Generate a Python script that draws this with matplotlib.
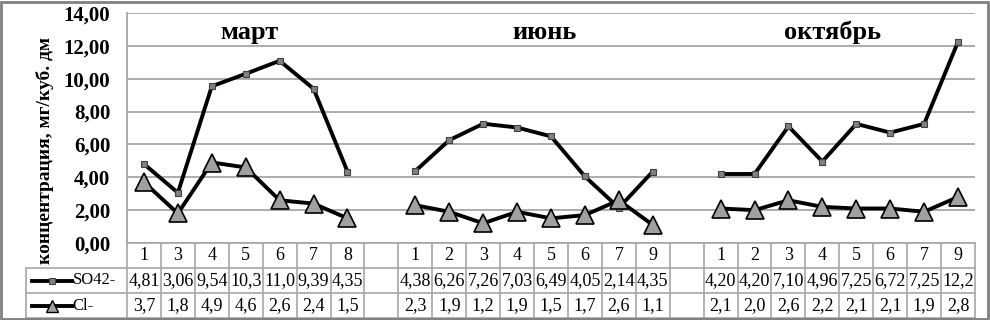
import numpy as np
import matplotlib
matplotlib.use('Agg')
import matplotlib.pyplot as plt
from matplotlib.patches import Rectangle

plt.rcParams['font.family'] = ['Liberation Serif', 'DejaVu Serif']

# Данные: три месяца, разрывы между группами
categories = ['1', '3', '4', '5', '6', '7', '8', '',
              '1', '2', '3', '4', '5', '6', '7', '9', '',
              '1', '2', '3', '4', '5', '6', '7', '9']
so4 = [4.81, 3.06, 9.54, 10.3, 11.09, 9.39, 4.35, np.nan,
       4.38, 6.26, 7.26, 7.03, 6.49, 4.05, 2.14, 4.35, np.nan,
       4.20, 4.20, 7.10, 4.96, 7.25, 6.72, 7.25, 12.25]
cl = [3.7, 1.8, 4.9, 4.6, 2.6, 2.4, 1.5, np.nan,
      2.3, 1.9, 1.2, 1.9, 1.5, 1.7, 2.6, 1.1, np.nan,
      2.1, 2.0, 2.6, 2.2, 2.1, 2.1, 1.9, 2.8]
so4_text = ['4,81', '3,06', '9,54', '10,3', '11,0', '9,39', '4,35', '',
            '4,38', '6,26', '7,26', '7,03', '6,49', '4,05', '2,14', '4,35', '',
            '4,20', '4,20', '7,10', '4,96', '7,25', '6,72', '7,25', '12,2']
cl_text = ['3,7', '1,8', '4,9', '4,6', '2,6', '2,4', '1,5', '',
           '2,3', '1,9', '1,2', '1,9', '1,5', '1,7', '2,6', '1,1', '',
           '2,1', '2,0', '2,6', '2,2', '2,1', '2,1', '1,9', '2,8']
months = ['март', 'июнь', 'октябрь']
month_x = [3.1, 11.8, 20.3]
series_names = ['SO42-', 'Cl-']

W, H = 990, 320
fig = plt.figure(figsize=(W / 100, H / 100), dpi=100)

x = np.arange(len(categories))
grid_c = '#a6a6a6'
tsize = 13

# основная область графика
ax = fig.add_axes([127 / W, 77 / H, 848 / W, 230 / H])
ax.set_xlim(-0.5, len(categories) - 0.5)
ax.set_ylim(0, 14)
ax.set_yticks(np.arange(0, 15, 2))
ax.set_yticklabels([('%.2f' % v).replace('.', ',') for v in np.arange(0, 15, 2)],
                   fontsize=15, fontweight='bold')
ax.tick_params(axis='y', length=0, pad=12)
ax.set_xticks([])
ax.grid(axis='y', color=grid_c, lw=1.3)
ax.set_axisbelow(True)
for s in ['top', 'right', 'bottom']:
    ax.spines[s].set_visible(False)
ax.spines['left'].set_color(grid_c)
ax.spines['left'].set_linewidth(1.3)

ax.plot(x, so4, color='black', lw=2.8, marker='s', ms=4.5,
        mfc='#808080', mec='#404040', mew=0.8, zorder=3)
ax.plot(x, cl, color='black', lw=2.8, marker='^', ms=13,
        mfc='#a0a0a0', mec='black', mew=1.2, zorder=4)

for name, mx in zip(months, month_x):
    ax.text(mx, 12.8, name, ha='center', va='center', fontsize=19,
            fontweight='bold')

fig.text(45 / W, 1 - 150 / H, 'концентрация, мг/куб. дм', rotation=90,
         ha='center', va='center', fontsize=14, fontweight='bold')

# таблица данных под графиком
leg_w = (127 - 26) / (848 / len(categories))
tax = fig.add_axes([26 / W, 2 / H, (975 - 26) / W, 75 / H])
x0 = -0.5 - leg_w
tax.set_xlim(x0, len(categories) - 0.5)
tax.set_ylim(0, 3)
tax.axis('off')
n = len(categories)
tax.plot([-0.5, n - 0.5], [3, 3], color=grid_c, lw=1.2, clip_on=False)
for yy in [0, 1, 2]:
    tax.plot([x0, n - 0.5], [yy, yy], color=grid_c, lw=1.2, clip_on=False)
tax.plot([x0, x0], [0, 2], color=grid_c, lw=1.2, clip_on=False)
for k in range(n + 1):
    tax.plot([k - 0.5, k - 0.5], [0, 3], color=grid_c, lw=1.2, clip_on=False)

for i in range(n):
    tax.text(x[i], 2.5, categories[i], ha='center', va='center', fontsize=tsize)
    tax.text(x[i], 1.5, so4_text[i], ha='center', va='center', fontsize=tsize)
    tax.text(x[i], 0.5, cl_text[i], ha='center', va='center', fontsize=tsize)

# легенда в таблице
lx1, lx2 = x0 + 0.18, x0 + 1.36
lxm = (lx1 + lx2) / 2
tax.plot([lx1, lx2], [1.5, 1.5], color='black', lw=2.8, clip_on=False)
tax.plot([lxm], [1.5], marker='s', ms=4.5, mfc='#808080', mec='#404040',
         mew=0.8, clip_on=False)
tax.plot([lx1, lx2], [0.5, 0.5], color='black', lw=2.8, clip_on=False)
tax.plot([lxm], [0.5], marker='^', ms=8, mfc='#a0a0a0', mec='black',
         mew=1.0, clip_on=False)
tax.text(lx2 + 0.02, 1.5, series_names[0], ha='left', va='center', fontsize=12)
tax.text(lx2 + 0.02, 0.5, series_names[1], ha='left', va='center', fontsize=12)

# рамка вокруг рисунка
fig.patches.append(Rectangle((1 / W, 1 / H), (W - 3) / W, (H - 3) / H,
                             transform=fig.transFigure, fill=False,
                             edgecolor='#808080', lw=2))

fig.savefig('out.png', dpi=100)
